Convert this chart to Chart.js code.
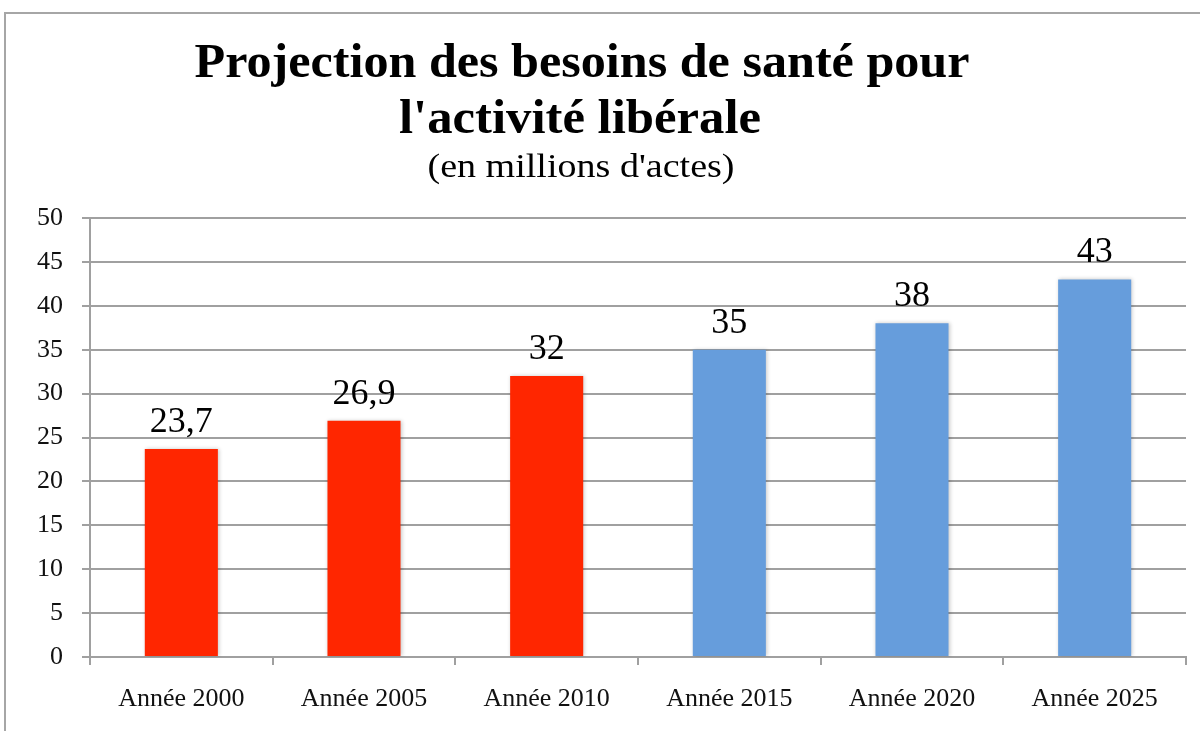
<!DOCTYPE html>
<html><head><meta charset="utf-8">
<script src="https://cdn.jsdelivr.net/npm/chart.js@4.4.0/dist/chart.umd.min.js"></script>
<style>html,body{margin:0;padding:0;background:#fff}#wrap{width:1200px;height:731px}</style>
</head><body><div id="wrap"><canvas id="c" width="1200" height="731"></canvas></div>
<script>
const categories = ['Année 2000','Année 2005','Année 2010','Année 2015','Année 2020','Année 2025'];
const values = [23.7, 26.9, 32, 35, 38, 43];
const barColors = ['#ff2600','#ff2600','#ff2600','#669ddc','#669ddc','#669ddc'];
const titleLines = ['Projection des besoins de santé pour', "l'activité libérale"];
const subtitle = "(en millions d'actes)";

function fitText(c, text, cx, y, targetW){
  const w = c.measureText(text).width;
  const s = targetW / w;
  c.save();
  c.translate(cx, y);
  c.scale(s, 1);
  c.fillText(text, 0, 0);
  c.restore();
}

const frame = {
  id:'frame',
  beforeDraw(chart){
    const c = chart.ctx;
    c.save();
    c.strokeStyle = '#a6a6a6'; c.lineWidth = 2;
    c.beginPath(); c.moveTo(5,731); c.lineTo(5,13); c.lineTo(1200,13); c.stroke();
    c.fillStyle = '#000'; c.textAlign = 'center'; c.textBaseline = 'alphabetic';
    c.font = 'bold 48px "Liberation Serif"';
    fitText(c, titleLines[0], 582, 77, 775);
    fitText(c, titleLines[1], 580, 133, 362);
    c.font = '34px "Liberation Serif"';
    fitText(c, subtitle, 581, 177, 307);
    c.restore();
  },
  beforeDatasetsDraw(chart){
    const c = chart.ctx;
    c.save();
    c.shadowColor = 'rgba(0,0,0,0.22)';
    c.shadowBlur = 4;
    c.shadowOffsetX = 1;
  },
  afterDatasetsDraw(chart){
    chart.ctx.restore();
  }
};
const labels = {
  id:'vlabels',
  afterDatasetsDraw(chart){
    const c = chart.ctx, meta = chart.getDatasetMeta(0);
    c.save();
    c.fillStyle = '#000'; c.textAlign = 'center'; c.textBaseline = 'alphabetic';
    c.font = '36px "Liberation Serif"';
    meta.data.forEach((el,i)=>{
      c.fillText(String(values[i]).replace('.',','), el.x, el.y - 17);
    });
    c.restore();
  }
};

new Chart(document.getElementById('c'), {
  type:'bar',
  data:{ labels:categories, datasets:[{ data:values, backgroundColor:barColors, borderWidth:0, categoryPercentage:1, barPercentage:0.4 }]},
  options:{
    responsive:false, animation:false,
    layout:{ padding:{ top:218, right:14, left:0, bottom:0 } },
    plugins:{ legend:{display:false}, title:{display:false}, tooltip:{enabled:false} },
    scales:{
      x:{
        offset:true,
        grid:{ drawOnChartArea:false, drawTicks:true, tickLength:8, color:'#a0a0a0', lineWidth:2 },
        border:{ color:'#a0a0a0', width:2 },
        ticks:{ color:'#111', font:{ family:'"Liberation Serif"', size:26 }, padding:19, maxRotation:0 },
        afterFit(s){ s.height = 74; }
      },
      y:{
        min:0, max:50,
        ticks:{ stepSize:5, color:'#111', font:{ family:'"Liberation Serif"', size:26 }, padding:19 },
        grid:{ color:'#a0a0a0', lineWidth:2, tickLength:8 },
        border:{ color:'#a0a0a0', width:2 },
        afterFit(s){ s.width = 90; }
      }
    }
  },
  plugins:[frame, labels]
});
</script></body></html>
